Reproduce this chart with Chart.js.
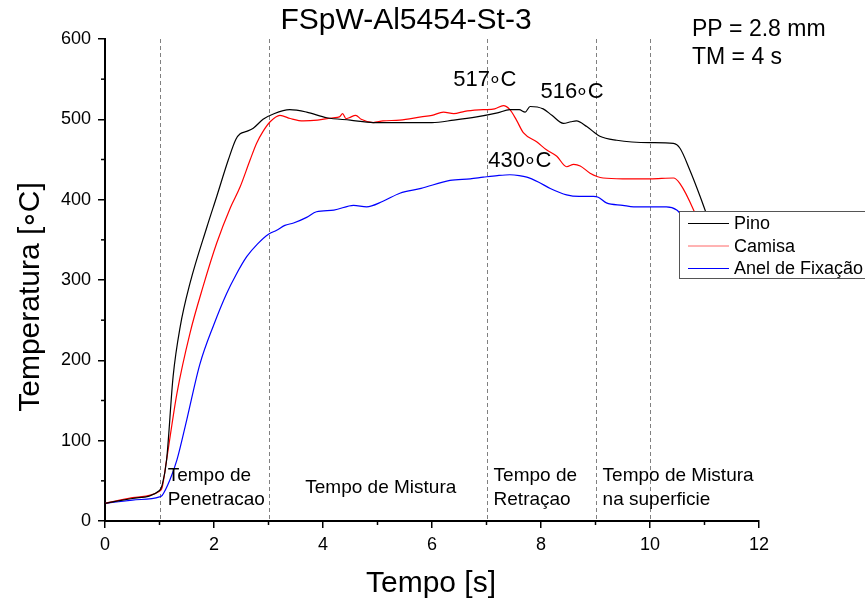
<!DOCTYPE html>
<html>
<head>
<meta charset="utf-8">
<script src="https://cdn.jsdelivr.net/npm/chart.js@4.4.0/dist/chart.umd.min.js"></script>
<style>
  html, body { margin: 0; padding: 0; background: #fff; }
  #wrap { width: 865px; height: 607px; position: relative; }
</style>
</head>
<body>
<div id="wrap"><canvas id="chart"></canvas></div>
<script>
// tempo [s] / temperatura [°C]
const pinoTime = [0, 0.5, 1.0, 1.05, 1.13, 1.25, 1.38, 1.56, 1.87, 2.05, 2.26, 2.4, 2.48, 2.6, 2.72, 2.9, 3.1, 3.39, 3.7, 4.07, 4.5, 4.92, 5.41, 6.0, 6.4, 6.82, 7.2, 7.43, 7.6, 7.71, 7.8, 8.04, 8.2, 8.41, 8.55, 8.65, 8.84, 9.08, 9.39, 10.0, 10.43, 10.55, 10.73, 10.92, 11.1];
const pinoTemp = [22, 28, 38, 45, 76, 180, 242, 296, 366, 404, 449, 475, 482, 485, 489, 500, 507, 512, 509, 502, 499, 496, 496, 496, 499, 503, 508, 512, 512, 509, 516, 513, 505, 495, 497, 498, 491, 479, 474, 471, 470, 464, 437, 404, 370];

const camisaTime = [0, 0.5, 1.0, 1.05, 1.13, 1.32, 1.56, 1.8, 2.05, 2.3, 2.48, 2.66, 2.78, 2.9, 3.03, 3.21, 3.4, 3.64, 3.9, 4.19, 4.3, 4.36, 4.42, 4.48, 4.6, 4.7, 4.92, 5.1, 5.41, 5.8, 6.0, 6.21, 6.4, 6.6, 6.94, 7.15, 7.31, 7.43, 7.55, 7.68, 7.92, 8.1, 8.29, 8.47, 8.6, 8.72, 8.9, 9.14, 9.5, 10.0, 10.43, 10.55, 10.8, 10.95];
const camisaTemp = [22, 29, 37, 42, 76, 159, 234, 292, 346, 390, 416, 449, 470, 485, 497, 505, 501, 498, 499, 502, 503, 507, 501, 502, 505, 500, 496, 498, 499, 503, 505, 509, 507, 510, 512, 513, 517, 512, 499, 483, 472, 462, 454, 441, 444, 442, 433, 427, 426, 426, 427, 420, 387, 360];

const anelTime = [0, 0.5, 1.0, 1.05, 1.19, 1.32, 1.5, 1.74, 2.0, 2.23, 2.4, 2.6, 2.8, 3.0, 3.15, 3.3, 3.46, 3.7, 3.88, 4.2, 4.56, 4.8, 5.1, 5.41, 5.8, 6.33, 6.7, 6.94, 7.2, 7.43, 7.6, 7.74, 7.95, 8.17, 8.47, 8.7, 8.96, 9.05, 9.2, 9.5, 9.7, 10.0, 10.3, 10.49, 10.65, 10.9];
const anelTemp = [22, 26, 30, 32, 51, 76, 126, 195, 245, 283, 306, 329, 345, 357, 362, 368, 371, 378, 385, 387, 393, 391, 398, 408, 414, 424, 426, 428, 430, 431, 430, 428, 422, 414, 406, 404, 404, 403, 396, 393, 391, 391, 391, 387, 375, 360];

const seriesNames = ['Pino', 'Camisa', 'Anel de Fixação'];
const seriesColors = ['#000000', '#ff0000', '#0000ff'];

const xTicks = [0, 2, 4, 6, 8, 10, 12];
const xMinorTicks = [1, 3, 5, 7, 9, 11];
const yTicks = [0, 100, 200, 300, 400, 500, 600];
const yMinorTicks = [50, 150, 250, 350, 450, 550];

// linhas tracejadas das fases
const phaseLines = [1, 3, 7, 9, 10];
const phaseLabels = [
  { x: 1.15, y: 56, lines: ['Tempo de', 'Penetracao'], align: 'left' },
  { x: 5.06, y: 41, lines: ['Tempo de Mistura'], align: 'center' },
  { x: 7.13, y: 56, lines: ['Tempo de', 'Retraçao'], align: 'left' },
  { x: 9.13, y: 56, lines: ['Tempo de Mistura', 'na superficie'], align: 'left' }
];
const peakLabels = [
  { x: 6.97, y: 549, text: '517∘C' },
  { x: 8.57, y: 534, text: '516∘C' },
  { x: 7.61, y: 448, text: '430∘C' }
];

const FONT = '"Liberation Sans", Arial, sans-serif';
Chart.defaults.font.family = FONT;
Chart.defaults.color = '#000';

const toPoints = (ts, vs) => ts.map((t, i) => ({ x: t, y: vs[i] }));

// texto com o anel de grau mais apertado
function drawText(ctx, text, x, y, size, align) {
  ctx.font = size + 'px ' + FONT;
  const parts = text.split('∘');
  const ringW = size * 0.48;
  let total = 0;
  parts.forEach((p, i) => { total += ctx.measureText(p).width; if (i < parts.length - 1) total += ringW; });
  let cx = align === 'center' ? x - total / 2 : align === 'right' ? x - total : x;
  ctx.textAlign = 'left';
  parts.forEach((p, i) => {
    ctx.fillText(p, cx, y);
    cx += ctx.measureText(p).width;
    if (i < parts.length - 1) {
      ctx.textAlign = 'center';
      ctx.fillText('∘', cx + ringW / 2, y);
      ctx.textAlign = 'left';
      cx += ringW;
    }
  });
}

const overlay = {
  id: 'overlay',
  beforeDatasetsDraw(chart) {
    const { ctx, chartArea, scales } = chart;
    ctx.save();
    ctx.strokeStyle = '#808080';
    ctx.lineWidth = 1;
    ctx.setLineDash([4, 3]);
    phaseLines.forEach(v => {
      const px = Math.round(scales.x.getPixelForValue(v)) + 0.5;
      ctx.beginPath();
      ctx.moveTo(px, chartArea.top);
      ctx.lineTo(px, chartArea.bottom);
      ctx.stroke();
    });
    ctx.restore();
  },
  afterDraw(chart) {
    const { ctx, chartArea, scales } = chart;
    const x = scales.x, y = scales.y;
    ctx.save();

    // ticks menores
    ctx.strokeStyle = '#000';
    ctx.lineWidth = 1.5;
    xMinorTicks.forEach(v => {
      const px = x.getPixelForValue(v);
      ctx.beginPath();
      ctx.moveTo(px, chartArea.bottom);
      ctx.lineTo(px, chartArea.bottom + 4);
      ctx.stroke();
    });
    yMinorTicks.forEach(v => {
      const py = y.getPixelForValue(v);
      ctx.beginPath();
      ctx.moveTo(chartArea.left, py);
      ctx.lineTo(chartArea.left - 4, py);
      ctx.stroke();
    });

    ctx.fillStyle = '#000';
    ctx.textBaseline = 'middle';

    // fases
    phaseLabels.forEach(p => {
      const px = x.getPixelForValue(p.x);
      const py = y.getPixelForValue(p.y);
      p.lines.forEach((l, i) => drawText(ctx, l, px, py + i * 24, 19, p.align));
    });

    // picos
    peakLabels.forEach(p => {
      drawText(ctx, p.text, x.getPixelForValue(p.x), y.getPixelForValue(p.y), 22, 'center');
    });

    // titulo e parametros
    drawText(ctx, 'FSpW-Al5454-St-3', 406, 21, 30, 'center');
    drawText(ctx, 'PP = 2.8 mm', 692, 30, 23, 'left');
    drawText(ctx, 'TM = 4 s', 692, 58, 23, 'left');

    // titulos dos eixos
    drawText(ctx, 'Tempo [s]', 431, 584, 30, 'center');
    ctx.save();
    ctx.translate(31, 297);
    ctx.rotate(-Math.PI / 2);
    drawText(ctx, 'Temperatura [∘C]', 0, 0, 30, 'center');
    ctx.restore();

    // legenda
    const lx = 679.5, ly = 211.5, lw = 200, lh = 67;
    ctx.fillStyle = '#fff';
    ctx.fillRect(lx, ly, lw, lh);
    ctx.strokeStyle = '#555';
    ctx.lineWidth = 1;
    ctx.strokeRect(lx, ly, lw, lh);
    seriesNames.forEach((name, i) => {
      const ry = 223.5 + i * 22.5;
      ctx.strokeStyle = seriesColors[i];
      ctx.globalAlpha = i === 1 ? 0.6 : 1;
      ctx.beginPath();
      ctx.moveTo(688, ry);
      ctx.lineTo(729, ry);
      ctx.stroke();
      ctx.globalAlpha = 1;
      ctx.fillStyle = '#000';
      drawText(ctx, name, 734, ry + 1, 18, 'left');
    });

    ctx.restore();
  }
};

new Chart(document.getElementById('chart'), {
  type: 'line',
  data: {
    datasets: [
      { label: seriesNames[0], data: toPoints(pinoTime, pinoTemp), borderColor: seriesColors[0] },
      { label: seriesNames[1], data: toPoints(camisaTime, camisaTemp), borderColor: seriesColors[1] },
      { label: seriesNames[2], data: toPoints(anelTime, anelTemp), borderColor: seriesColors[2] }
    ].map(d => ({ ...d, borderWidth: 1.2, pointRadius: 0, fill: false, cubicInterpolationMode: 'monotone' }))
  },
  options: {
    responsive: true,
    maintainAspectRatio: false,
    animation: false,
    layout: { padding: { top: 39, right: 106, left: 0, bottom: 0 } },
    plugins: { legend: { display: false }, title: { display: false }, tooltip: { enabled: false } },
    scales: {
      x: {
        type: 'linear', min: 0, max: 12,
        afterBuildTicks: s => { s.ticks = xTicks.map(v => ({ value: v })); },
        afterFit: s => { s.height = 86; },
        ticks: { font: { size: 18 }, color: '#000', padding: 6, maxRotation: 0 },
        grid: { drawOnChartArea: false, drawTicks: true, tickLength: 7, color: '#000', lineWidth: 1.5 },
        border: { display: true, color: '#000', width: 2 }
      },
      y: {
        type: 'linear', min: 0, max: 600,
        afterBuildTicks: s => { s.ticks = yTicks.map(v => ({ value: v })); },
        afterFit: s => { s.width = 105; },
        ticks: { font: { size: 18 }, color: '#000', padding: 7 },
        grid: { drawOnChartArea: false, drawTicks: true, tickLength: 7, color: '#000', lineWidth: 1.5 },
        border: { display: true, color: '#000', width: 2 }
      }
    }
  },
  plugins: [overlay]
});
</script>
</body>
</html>
